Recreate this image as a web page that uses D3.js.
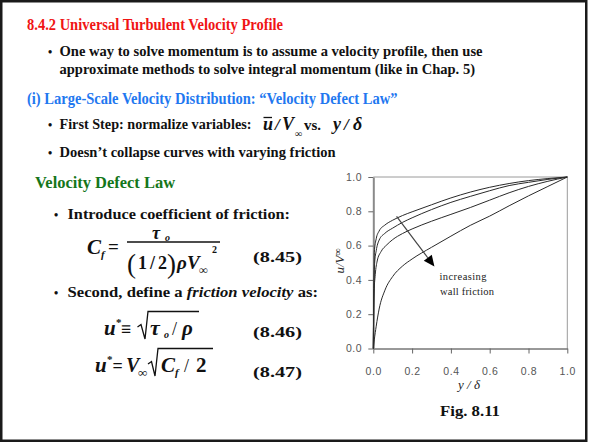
<!DOCTYPE html>
<html><head><meta charset="utf-8">
<script src="https://cdn.jsdelivr.net/npm/d3@7"></script>
<style>
html,body{margin:0;padding:0;background:#fff;}
svg{display:block;}
</style></head>
<body>
<div id="chart"></div>
<script>
// ---------- data ----------
const xTicks = [0, 0.2, 0.4, 0.6, 0.8, 1.0];
const yTicks = [0, 0.2, 0.4, 0.6, 0.8, 1.0];
const curveLowFriction = [[0,0],[0.003,0.35],[0.005,0.56],[0.015,0.64],[0.03,0.685],[0.06,0.72],[0.1,0.748],[0.15,0.775],[0.2,0.797],[0.3,0.838],[0.4,0.878],[0.5,0.912],[0.6,0.94],[0.7,0.962],[0.8,0.979],[0.9,0.991],[1,1]];
const curveMidFriction1 = [[0,0],[0.003,0.35],[0.007,0.5],[0.015,0.57],[0.03,0.632],[0.06,0.672],[0.1,0.702],[0.15,0.735],[0.2,0.762],[0.3,0.81],[0.4,0.852],[0.5,0.887],[0.6,0.92],[0.7,0.95],[0.8,0.969],[0.9,0.986],[1,1]];
const curveMidFriction2 = [[0,0],[0.003,0.3],[0.01,0.43],[0.02,0.51],[0.04,0.565],[0.07,0.605],[0.1,0.635],[0.15,0.67],[0.2,0.697],[0.3,0.742],[0.4,0.782],[0.5,0.822],[0.6,0.865],[0.7,0.908],[0.8,0.945],[0.9,0.975],[1,1]];
const curveHighFriction = [[0,0],[0.005,0.05],[0.015,0.13],[0.03,0.23],[0.06,0.34],[0.1,0.42],[0.15,0.48],[0.2,0.522],[0.3,0.59],[0.4,0.655],[0.5,0.718],[0.6,0.772],[0.7,0.832],[0.8,0.89],[0.9,0.945],[1,1]];
const seriesList = [curveLowFriction, curveMidFriction1, curveMidFriction2, curveHighFriction];
const arrowFrom = [0.12, 0.77];
const arrowTo = [0.315, 0.478];
const annotationLines = ["increasing", "wall friction"];

const W = 589, H = 444;
const svg = d3.select("#chart").append("svg").attr("width", W).attr("height", H);
svg.append("rect").attr("width", W).attr("height", H).attr("fill", "#fff");
svg.append("rect").attr("x", 1.25).attr("y", 1.25).attr("width", 585).attr("height", 439.5)
  .attr("fill", "none").attr("stroke", "#1a1a1a").attr("stroke-width", 2.5);

const SERIF = "'Liberation Serif','Times New Roman',serif";
const SANS = "'Liberation Sans',Arial,sans-serif";

function txt(x, y, s, o = {}) {
  const t = svg.append("text").attr("x", x).attr("y", y).text(s)
    .attr("font-family", o.family || SERIF)
    .attr("font-size", o.size || 15)
    .attr("font-weight", o.weight || "bold")
    .attr("font-style", o.style || "normal")
    .attr("fill", o.color || "#111");
  if (o.width) t.attr("textLength", o.width).attr("lengthAdjust", "spacingAndGlyphs");
  if (o.anchor) t.attr("text-anchor", o.anchor);
  return t;
}

// ---------- slide text ----------
txt(27, 30, "8.4.2 Universal Turbulent Velocity Profile", {size: 16, color: "#f01414", width: 256});
txt(48, 56, "•", {size: 12});
txt(59.5, 56, "One way to solve momentum is to assume a velocity profile, then use", {size: 15, width: 423});
txt(59.5, 74, "approximate methods to solve integral momentum (like in Chap. 5)", {size: 15, width: 415.5});
txt(27, 104, "(i) Large-Scale Velocity Distribution: \u201CVelocity Defect Law\u201D", {size: 16, color: "#1f78f0", width: 370.5});
txt(48, 129, "•", {size: 12});
txt(59.5, 129, "First Step: normalize variables:", {size: 15, width: 192});
txt(263, 130, "u", {size: 18, style: "italic"});
svg.append("line").attr("x1", 263.5).attr("x2", 272).attr("y1", 117.5).attr("y2", 117.5).attr("stroke", "#111").attr("stroke-width", 1.3);
txt(275, 130, "/", {size: 17, style: "italic"});
txt(282, 130, "V", {size: 18, style: "italic"});
txt(295, 137, "\u221E", {size: 10});
txt(304, 130, "vs.", {size: 15, width: 17});
txt(333, 130, "y", {size: 18, style: "italic"});
txt(344, 130, "/", {size: 17, style: "italic"});
txt(353, 130, "\u03B4", {size: 18, style: "italic"});
txt(48, 157, "•", {size: 12});
txt(59.5, 157, "Doesn\u2019t collapse curves with varying friction", {size: 15, width: 276});

txt(35, 188, "Velocity Defect Law", {size: 16, color: "#15761a", width: 140});
txt(54, 218.5, "•", {size: 12});
txt(67.5, 218.5, "Introduce coefficient of friction:", {size: 15, width: 222.5});

// Eq 8.45
txt(87, 254, "C", {size: 21, style: "italic"});
txt(101, 258, "f", {size: 11, style: "italic"});
txt(108, 253, "=", {size: 19});
svg.append("line").attr("x1", 127).attr("x2", 220).attr("y1", 242).attr("y2", 242).attr("stroke", "#111").attr("stroke-width", 1.3);
txt(152, 238.5, "\u03C4", {size: 18, style: "italic"});
txt(165, 240.5, "o", {size: 10, style: "italic"});
txt(127, 273, "(", {size: 27, weight: "normal"});
txt(138, 269, "1", {size: 18});
txt(150, 269, "/", {size: 18});
txt(158, 269, "2", {size: 18});
txt(167, 273, ")", {size: 27, weight: "normal"});
txt(177, 269, "\u03C1", {size: 19, style: "italic"});
txt(187, 269, "V", {size: 19, style: "italic"});
txt(199, 274, "\u221E", {size: 12});
txt(212, 253, "2", {size: 10});
txt(253, 262, "(8.45)", {size: 15, width: 49});

txt(54, 297, "•", {size: 12});
const t2 = txt(67.5, 297, "Second, define a ", {size: 15, width: 250.5});
t2.append("tspan").attr("font-style", "italic").text("friction velocity");
t2.append("tspan").text(" as:");

// Eq 8.46
txt(104, 335, "u", {size: 21, style: "italic"});
txt(116, 326, "*", {size: 11});
txt(121, 335, "\u2261", {size: 18});
svg.append("path").attr("d", "M137.5,327 L141,324.5 L145,339 L148,311.5 L199,311.5")
  .attr("fill", "none").attr("stroke", "#111").attr("stroke-width", 1.3);
txt(150, 335, "\u03C4", {size: 22, style: "italic"});
txt(164, 338, "o", {size: 10, style: "italic"});
txt(172, 335, "/", {size: 18, weight: "normal"});
txt(182, 335, "\u03C1", {size: 21, style: "italic"});
txt(253, 337, "(8.46)", {size: 15, width: 49});

// Eq 8.47
txt(95, 372, "u", {size: 21, style: "italic"});
txt(107, 363, "*", {size: 11});
txt(112.5, 372, "=", {size: 18});
txt(126, 372, "V", {size: 20, style: "italic"});
txt(138, 377, "\u221E", {size: 13});
svg.append("path").attr("d", "M148,364 L151.5,361.5 L155,376 L158,348.5 L213,348.5")
  .attr("fill", "none").attr("stroke", "#111").attr("stroke-width", 1.3);
txt(161, 372, "C", {size: 21, style: "italic"});
txt(175, 376, "f", {size: 11, style: "italic"});
txt(184, 372, "/", {size: 18, weight: "normal"});
txt(196, 372, "2", {size: 21});
txt(253, 377, "(8.47)", {size: 15, width: 49});

txt(440, 416, "Fig. 8.11", {size: 15, width: 60});

// ---------- chart ----------
const x = d3.scaleLinear().domain([0, 1]).range([373.3, 567.3]);
const y = d3.scaleLinear().domain([0, 1]).range([348.5, 177]);
const g = svg.append("g");

g.append("line").attr("x1", x(0)).attr("x2", x(1)).attr("y1", y(1)).attr("y2", y(1)).attr("stroke", "#9a9a9a").attr("stroke-width", 1);
g.append("line").attr("x1", x(1)).attr("x2", x(1)).attr("y1", y(1)).attr("y2", y(0)).attr("stroke", "#9a9a9a").attr("stroke-width", 1);

const xAxis = g.append("g").attr("transform", `translate(0,${y(0)})`)
  .call(d3.axisBottom(x).tickValues(xTicks).tickFormat(d3.format(".1f")).tickSize(5).tickSizeOuter(0));
const yAxis = g.append("g").attr("transform", `translate(${x(0)},0)`)
  .call(d3.axisLeft(y).tickValues(yTicks).tickFormat(d3.format(".1f")).tickSize(5).tickSizeOuter(0));
[xAxis, yAxis].forEach(a => {
  a.selectAll("text").attr("font-family", SANS).attr("font-size", 10.5).attr("fill", "#555").attr("letter-spacing", 0.6);
  a.selectAll(".tick line").attr("stroke", "#666");
});
xAxis.select(".domain").attr("stroke", "#333").attr("stroke-width", 1);
yAxis.select(".domain").attr("stroke", "#8a8a8a").attr("stroke-width", 2);
xAxis.selectAll("text").attr("y", 19);
yAxis.selectAll("text").attr("x", -11);

const line = d3.line().x(d => x(d[0])).y(d => y(d[1])).curve(d3.curveMonotoneX);
g.selectAll("path.series").data(seriesList).enter().append("path").attr("class", "series")
  .attr("d", line).attr("fill", "none").attr("stroke", "#2a2a2a").attr("stroke-width", 1);

// arrow
const ax1 = x(arrowFrom[0]), ay1 = y(arrowFrom[1]), ax2 = x(arrowTo[0]), ay2 = y(arrowTo[1]);
const ang = Math.atan2(ay2 - ay1, ax2 - ax1);
const hl = 11, hw = 5;
const bx = ax2 - hl * Math.cos(ang), by = ay2 - hl * Math.sin(ang);
g.append("line").attr("x1", ax1).attr("y1", ay1).attr("x2", bx).attr("y2", by).attr("stroke", "#444").attr("stroke-width", 1.2);
g.append("path").attr("d", `M${ax2},${ay2} L${bx + hw * Math.sin(ang)},${by - hw * Math.cos(ang)} L${bx - hw * Math.sin(ang)},${by + hw * Math.cos(ang)} Z`).attr("fill", "#000");

g.append("text").attr("x", 439.5).attr("y", 280).text(annotationLines[0])
  .attr("font-family", SERIF).attr("font-size", 10.5).attr("fill", "#222").attr("textLength", 47).attr("lengthAdjust", "spacing");
g.append("text").attr("x", 440).attr("y", 295).text(annotationLines[1])
  .attr("font-family", SERIF).attr("font-size", 10.5).attr("fill", "#222").attr("textLength", 54).attr("lengthAdjust", "spacing");

// axis titles
const xl = g.append("text").attr("x", 469).attr("y", 389).attr("text-anchor", "middle")
  .attr("font-family", SERIF).attr("font-size", 13).attr("font-style", "italic").attr("fill", "#222");
xl.append("tspan").text("y / \u03B4");
const yl = g.append("text").attr("transform", "translate(344,261) rotate(-90)").attr("text-anchor", "middle")
  .attr("font-family", SERIF).attr("font-size", 13).attr("font-style", "italic").attr("fill", "#222");
yl.append("tspan").text("u/V");
yl.append("tspan").attr("dy", -3).attr("font-size", 10).text("\u221E");
</script>
</body></html>
